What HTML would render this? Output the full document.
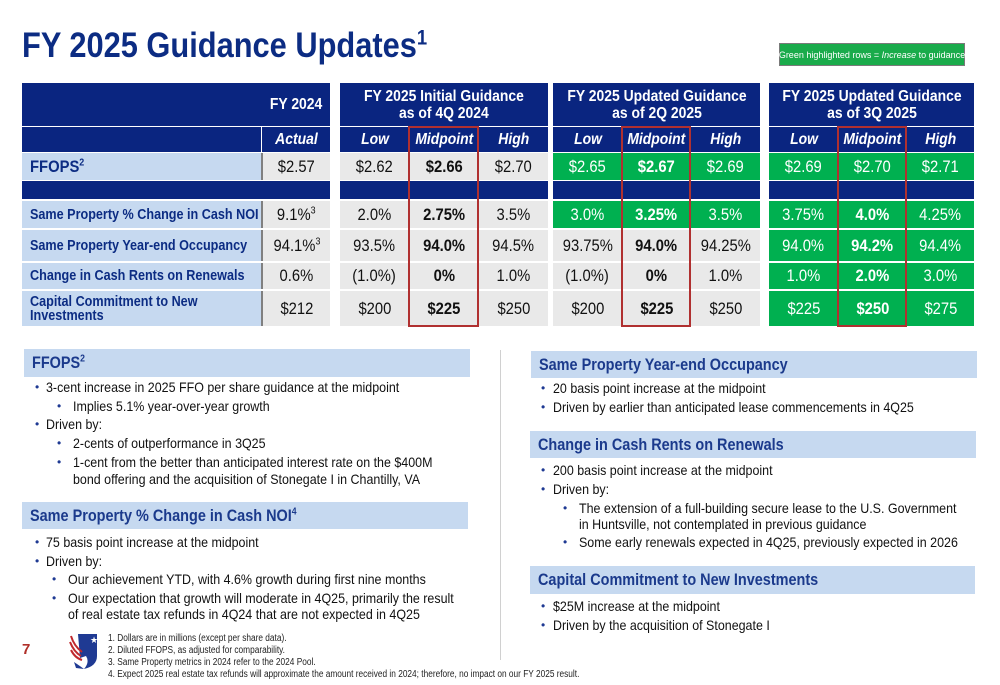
<!DOCTYPE html>
<html><head><meta charset="utf-8">
<style>
*{margin:0;padding:0;box-sizing:border-box}
body{width:1000px;height:685px;position:relative;background:#fff;font-family:"Liberation Sans",sans-serif;overflow:hidden}
.a{position:absolute}
.n{display:inline-block;transform:scaleX(.85);transform-origin:left center;white-space:nowrap}
.cell{position:absolute;display:flex;align-items:center;justify-content:center;font-size:17px;color:#111}
.cell span{display:inline-block;transform:scaleX(.87);white-space:nowrap}
.band{position:absolute;background:#c6d9f0;color:#1b3a8c;font-weight:bold;font-size:17px;padding-left:8px;display:flex;align-items:center}
.t{position:absolute;font-size:14px;color:#111;white-space:nowrap}
.t .n{transform:scaleX(.89)}
.b{position:absolute;font-size:12px;color:#1f3a93}
sup{font-size:60%;vertical-align:super;line-height:0}
</style></head><body>
<div class="a" style="left:22px;top:26px;font-size:35px;font-weight:bold;color:#0c2c83"><span class="n" style="transform:scaleX(.88)">FY 2025 Guidance Updates<sup>1</sup></span></div>
<div class="a" style="left:779px;top:43px;width:186px;height:23px;background:#1aab4b;border:1px solid #7a7a7a;color:#fff;font-size:9px;display:flex;align-items:center;justify-content:center;white-space:nowrap">Green highlighted rows = <i>&nbsp;Increase&nbsp;</i> to guidance</div>
<div id="tbl"></div>

<div class="band" style="left:24px;top:349px;width:446px;height:28px"><span class="n">FFOPS<sup>2</sup></span></div>
<div class="band" style="left:22px;top:502px;width:446px;height:27px"><span class="n">Same Property % Change in Cash NOI<sup>4</sup></span></div>
<div class="band" style="left:531px;top:351px;width:446px;height:27px"><span class="n">Same Property Year-end Occupancy</span></div>
<div class="band" style="left:530px;top:431px;width:446px;height:27px"><span class="n">Change in Cash Rents on Renewals</span></div>
<div class="band" style="left:530px;top:566px;width:445px;height:28px"><span class="n">Capital Commitment to New Investments</span></div>
<div class="a" style="left:500px;top:350px;width:1px;height:310px;background:#d0d0d0"></div>

<div id="bul"></div>

<div class="a" style="left:22px;top:641px;font-size:15px;font-weight:bold;color:#b0302a">7</div>
<svg class="a" style="left:68px;top:632px" width="30" height="38" viewBox="0 0 30 38">
<path d="M10 2 L29 2 L29 24 Q29 34 16 37 Q22 30 18 24 L12 26 Z" fill="#1f3a93"/>
<path d="M3 4 Q6 14 14 20 M2 10 Q6 20 13 24 M3 18 Q7 26 14 28" stroke="#c0282d" stroke-width="2" fill="none"/>
<path d="M6 30 Q12 34 16 37 L8 36 Z" fill="#1f3a93"/>
<text x="22" y="11" font-size="9" fill="#fff">★</text>
</svg>
<div class="a" style="left:108px;top:633px;font-size:10px;line-height:12px;color:#222">
<div><span class="n" style="transform:scaleX(.83)">1. Dollars are in millions (except per share data).</span></div>
<div><span class="n" style="transform:scaleX(.83)">2. Diluted FFOPS, as adjusted for comparability.</span></div>
<div><span class="n" style="transform:scaleX(.83)">3. Same Property metrics in 2024 refer to the 2024 Pool.</span></div>
<div><span class="n" style="transform:scaleX(.83)">4. Expect 2025 real estate tax refunds will approximate the amount received in 2024; therefore, no impact on our FY 2025 result.</span></div>
</div>

<script>
const NAVY='#0a2580', LB='#c6d9f0', GR='#e9e9e9', GN='#00b050';
const rowLabels=['FFOPS','','Same Property % Change in Cash NOI','Same Property Year-end Occupancy','Change in Cash Rents on Renewals','Capital Commitment to New Investments'];
const actual=['$2.57','','9.1%<sup>3</sup>','94.1%<sup>3</sup>','0.6%','$212'];
const initialLow=['$2.62','','2.0%','93.5%','(1.0%)','$200'];
const initialMid=['$2.66','','2.75%','94.0%','0%','$225'];
const initialHigh=['$2.70','','3.5%','94.5%','1.0%','$250'];
const q2Low=['$2.65','','3.0%','93.75%','(1.0%)','$200'];
const q2Mid=['$2.67','','3.25%','94.0%','0%','$225'];
const q2High=['$2.69','','3.5%','94.25%','1.0%','$250'];
const q2Green=[1,0,1,0,0,0];
const q3Low=['$2.69','','3.75%','94.0%','1.0%','$225'];
const q3Mid=['$2.70','','4.0%','94.2%','2.0%','$250'];
const q3High=['$2.71','','4.25%','94.4%','3.0%','$275'];
const q3Green=[1,0,1,1,1,1];
const headers=['FY 2025 Initial Guidance<br>as of 4Q 2024','FY 2025 Updated Guidance<br>as of 2Q 2025','FY 2025 Updated Guidance<br>as of 3Q 2025'];

const rowsY=[[153,180],[181,199],[201,228],[230,261],[263,289],[291,326]];
const blocks=[[340,409,478,548],[553,622,690,760],[769,838,906,974]];
const T=document.getElementById('tbl');
function box(x,y,w,h,bg,html,name,style){
  const d=document.createElement('div');
  d.className='cell';
  d.style.cssText=`left:${x}px;top:${y}px;width:${w}px;height:${h}px;background:${bg};`+(style||'');
  d.innerHTML=html?`<span>${html}</span>`:'';
  
  
  T.appendChild(d);return d;
}
box(22,83,308,43,NAVY,'','fy2024-header');
box(262,83,68,43,'transparent','FY 2024','fy2024-title','color:#fff;font-weight:bold;font-size:16px');
box(22,127,239,25,NAVY,'','label-subheader');
box(262,127,68,25,NAVY,'<i>Actual</i>','actual-subheader','color:#fff;font-weight:bold;font-size:16px');
const bdata=[[initialLow,initialMid,initialHigh,null],[q2Low,q2Mid,q2High,q2Green],[q3Low,q3Mid,q3High,q3Green]];
blocks.forEach((b,i)=>{
  box(b[0],83,b[3]-b[0],43,NAVY,headers[i],'block-header-'+i,'color:#fff;font-weight:bold;font-size:16px;line-height:17px;text-align:center');
  ['Low','Midpoint','High'].forEach((s,j)=>{
    box(b[j]+(j?1:0),127,b[j+1]-b[j]-(j?1:0),25,NAVY,'<i>'+s+'</i>','subheader-'+s.toLowerCase(),'color:#fff;font-weight:bold;font-size:16px');
  });
});
rowsY.forEach((r,k)=>{
  const y=r[0],h=r[1]-r[0];
  if(k===1){
    box(22,y,308,h,NAVY,'','spacer-row');
    blocks.forEach((b,i)=>box(b[0],y,b[3]-b[0],h,NAVY,'','spacer-row'));
    return;
  }
  const lab=box(22,y,239,h,LB,'', 'row-label','justify-content:flex-start;padding-left:8px;color:#0c2c83;font-weight:bold;font-size:'+(k===0?17:14.5)+'px;line-height:14px');
  lab.innerHTML='<span style="transform-origin:left;transform:scaleX(.87)">'+(k===0?'FFOPS<sup>2</sup>':(k===5?'Capital Commitment to New<br>Investments':rowLabels[k]))+'</span>';
  box(261,y,69,h,GR,actual[k],'actual-value','border-left:2px solid #808080');
  bdata.forEach((bd,i)=>{
    const b=blocks[i];const g=bd[3]&&bd[3][k];
    for(let j=0;j<3;j++){
      box(b[j]+(j?1:0),y,b[j+1]-b[j]-(j?1:0),h,g?GN:GR,bd[j][k],'guidance-value','color:'+(g?'#fff':'#111')+';'+(j===1&&!(i===2&&k===0)?'font-weight:bold':''));
    }
  });
});
blocks.forEach((b,i)=>{
  const d=document.createElement('div');
  d.className='a';
  d.style.cssText=`left:${b[1]-1}px;top:126px;width:${b[2]-b[1]+2}px;height:201px;border:2px solid #b03030`;
  
  
  T.appendChild(d);
});

const B=document.getElementById('bul');
const bullets=[
[35,46,388,'3-cent increase in 2025 FFO per share guidance at the midpoint'],
[57,73,407,'Implies 5.1% year-over-year growth'],
[35,46,425,'Driven by:'],
[57,73,444,'2-cents of outperformance in 3Q25'],
[57,73,463,'1-cent from the better than anticipated interest rate on the $400M'],
[0,73,480,'bond offering and the acquisition of Stonegate I in Chantilly, VA'],
[35,46,543,'75 basis point increase at the midpoint'],
[35,46,562,'Driven by:'],
[52,68,580,'Our achievement YTD, with 4.6% growth during first nine months'],
[52,68,599,'Our expectation that growth will moderate in 4Q25, primarily the result'],
[0,68,615,'of real estate tax refunds in 4Q24 that are not expected in 4Q25'],
[541,553,389,'20 basis point increase at the midpoint'],
[541,553,408,'Driven by earlier than anticipated lease commencements in 4Q25'],
[541,553,471,'200 basis point increase at the midpoint'],
[541,553,490,'Driven by:'],
[563,579,509,'The extension of a full-building secure lease to the U.S. Government'],
[0,579,525,'in Huntsville, not contemplated in previous guidance'],
[563,579,543,'Some early renewals expected in 4Q25, previously expected in 2026'],
[541,553,607,'$25M increase at the midpoint'],
[541,553,626,'Driven by the acquisition of Stonegate I']];
bullets.forEach(r=>{
  if(r[0]){const d=document.createElement('div');d.className='b';d.style.left=r[0]+'px';d.style.top=(r[2]-8)+'px';d.textContent='•';
    
    
    B.appendChild(d);}
  const t=document.createElement('div');t.className='t';t.style.left=r[1]+'px';t.style.top=(r[2]-9)+'px';
  t.innerHTML='<span class="n">'+r[3]+'</span>';
  
  
  B.appendChild(t);
});
</script>
</body></html>
